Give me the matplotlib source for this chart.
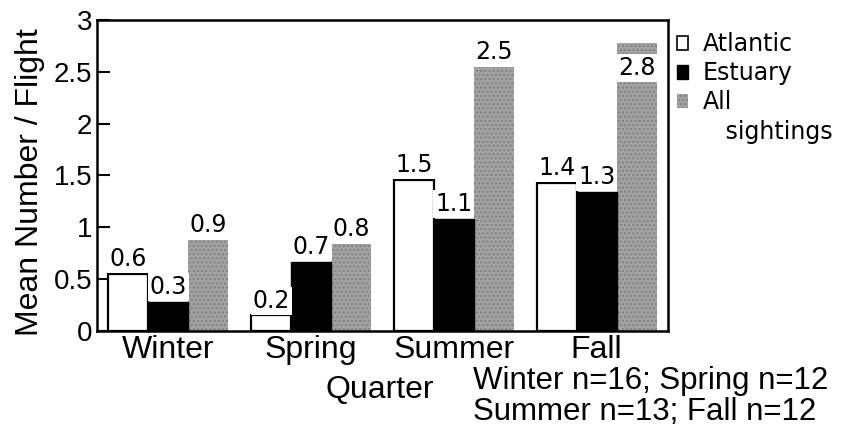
import numpy as np
from matplotlib import pyplot as plt
from matplotlib.patches import Patch

seasons = ["Winter", "Spring", "Summer", "Fall"]
atlantic = [0.55, 0.15, 1.46, 1.43]
estuary = [0.28, 0.67, 1.08, 1.34]
all_sightings = [0.88, 0.84, 2.55, 2.78]
atlantic_lbl = ["0.6", "0.2", "1.5", "1.4"]
estuary_lbl = ["0.3", "0.7", "1.1", "1.3"]
all_lbl = ["0.9", "0.8", "2.5", "2.8"]
yticks = [0, 0.5, 1, 1.5, 2, 2.5, 3]
yticklabels = ["0", "0.5", "1", "1.5", "2", "2.5", "3"]
note_lines = ["Winter n=16; Spring n=12", "Summer n=13; Fall n=12"]
legend_labels = ["Atlantic", "Estuary", "All", "   sightings"]

plt.rcParams["font.family"] = ["Liberation Sans", "DejaVu Sans"]
plt.rcParams["hatch.linewidth"] = 1.0
lbl_font = "DejaVu Sans"

fig = plt.figure(figsize=(8.49, 4.43), dpi=100)
ax = fig.add_axes([0.1143, 0.2528, 0.6725, 0.7021])

x = np.arange(len(seasons))
w = 0.28
gray = "#a2a2a2"
dots = "#808080"

ax.bar(x - w, atlantic, w, color="white", edgecolor="black", linewidth=1.6, zorder=2)
ax.bar(x, estuary, w, color="black", edgecolor="black", linewidth=1, zorder=2)
ax.bar(x + w, all_sightings, w, color=gray, edgecolor=dots, hatch="....", linewidth=0, zorder=1)

for xs, vals, lbls in [(x - w, atlantic, atlantic_lbl), (x, estuary, estuary_lbl),
                       (x + w, all_sightings, all_lbl)]:
    for xi, v, s in zip(xs, vals, lbls):
        if v > 2.7:
            # bar runs off the scale: label sits in a break of the bar
            ax.annotate(s, (xi, v - 0.24), ha="center", va="center", fontsize=17,
                        family=lbl_font, zorder=4,
                        bbox=dict(boxstyle="square,pad=0.08", facecolor="white", edgecolor="none"))
        else:
            ax.annotate(s, (xi, v), xytext=(0, 2), textcoords="offset points",
                        ha="center", va="bottom", fontsize=17, family=lbl_font, zorder=4,
                        bbox=dict(boxstyle="square,pad=0.08", facecolor="white", edgecolor="none"))

ax.set_xlim(-0.5, 3.5)
ax.set_ylim(0, 3)
ax.set_yticks(yticks)
ax.set_yticklabels(yticklabels, fontsize=20)
ax.set_xticks(x)
ax.set_xticklabels(seasons, fontsize=23)
ax.tick_params(axis="y", direction="in", length=9, width=1.5, pad=3.6)
ax.tick_params(axis="x", length=0, pad=3)
for sp in ax.spines.values():
    sp.set_linewidth(1.8)

fig.text(30 / 849, 1 - 182 / 443, "Mean Number / Flight", rotation=90,
         ha="center", va="center", fontsize=23)
fig.text(380 / 849, 1 - 390 / 443, "Quarter", ha="center", va="center", fontsize=23)
for i, line in enumerate(note_lines):
    fig.text(473 / 849, 1 - (381 + 31 * i) / 443, line, ha="left", va="center", fontsize=22.5)

handles = [Patch(facecolor="white", edgecolor="black", linewidth=1.2),
           Patch(facecolor="black", edgecolor="black"),
           Patch(facecolor=gray, edgecolor=dots, hatch="....", linewidth=0),
           Patch(facecolor="none", edgecolor="none")]
fig.legend(handles, legend_labels, loc="upper left",
           bbox_to_anchor=(677 / 849, 1 - 32 / 443), frameon=False,
           handlelength=0.45, handleheight=0.55, handletextpad=0.65, borderpad=0,
           borderaxespad=0, labelspacing=0.22, prop={"family": lbl_font, "size": 17})

fig.savefig("out.png", dpi=100)
